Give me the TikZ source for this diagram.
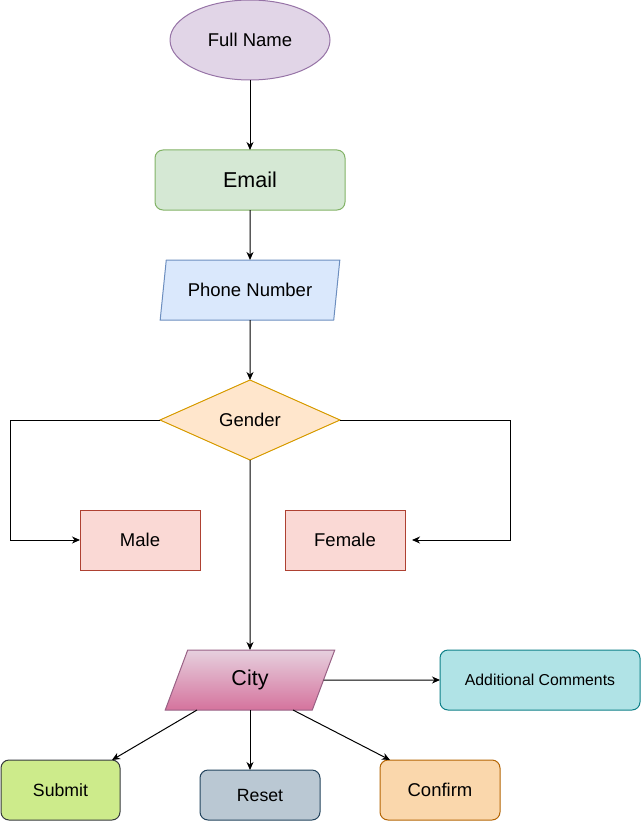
\documentclass[tikz,border=0pt]{standalone}
\usepackage{fontspec}
\setmainfont{Liberation Sans}
\usepackage{xcolor}
\usetikzlibrary{shapes.geometric, arrows.meta}

\definecolor{purpfill}{HTML}{E1D5E7}\definecolor{purpline}{HTML}{9673A6}
\definecolor{grnfill}{HTML}{D5E8D4}\definecolor{grnline}{HTML}{82B366}
\definecolor{bluefill}{HTML}{DAE8FC}\definecolor{blueline}{HTML}{6C8EBF}
\definecolor{orgfill}{HTML}{FFE6CC}\definecolor{orgline}{HTML}{D79B00}
\definecolor{redfill}{HTML}{FAD9D5}\definecolor{redline}{HTML}{AE4132}
\definecolor{citytop}{HTML}{E6D0DE}\definecolor{citybot}{HTML}{D5739D}\definecolor{cityline}{HTML}{996185}
\definecolor{tealfill}{HTML}{B0E3E6}\definecolor{tealline}{HTML}{0E8088}
\definecolor{limefill}{HTML}{CDEB8B}\definecolor{limeline}{HTML}{36393D}
\definecolor{greyfill}{HTML}{BAC8D3}\definecolor{greyline}{HTML}{23445D}
\definecolor{tanfill}{HTML}{FAD7AC}\definecolor{tanline}{HTML}{B46504}

\begin{document}
\begin{tikzpicture}[x=1pt, y=-1pt, line width=1pt,
  txt/.style={font=\fontsize{18.5}{22}\selectfont},
  bigtxt/.style={font=\fontsize{21.5}{25}\selectfont},
  box/.style={draw, inner sep=0pt, outer sep=0pt, txt},
  slanted/.style={box, trapezium, trapezium left angle=71.57, trapezium right angle=108.43,
    trapezium stretches=true, minimum height=60pt},
  arr/.style={-{Stealth[length=8pt, width=7pt, inset=2.5pt]}, black}]
  \useasboundingbox (0,0) rectangle (641,821);

  % top column
  \node[box, ellipse, draw=purpline, fill=purpfill, minimum width=160pt, minimum height=80pt] (fullname) at (250,40) {Full Name};
  \node[box, rounded corners=8pt, draw=grnline, fill=grnfill, minimum width=190pt, minimum height=60pt, bigtxt] (email) at (250,180) {Email};
  \node[slanted, draw=blueline, fill=bluefill, minimum width=180pt] (phone) at (250,290) {Phone Number};
  \node[box, diamond, aspect=2.25, draw=orgline, fill=orgfill, minimum width=180pt, minimum height=80pt] (gender) at (250,420) {Gender};
  \draw[arr] (fullname) -- (email);
  \draw[arr] (email) -- (phone.north);
  \draw[arr] (phone.south) -- (gender.north);

  % gender branches
  \node[box, draw=redline, fill=redfill, minimum width=120pt, minimum height=60pt] (male) at (140,540) {Male};
  \node[box, draw=redline, fill=redfill, minimum width=120pt, minimum height=60pt] (female) at (345,540) {Female};
  \coordinate (lbend) at (10,420);
  \coordinate (rbend) at (510,420);
  \draw[arr] (gender.west) -- (lbend) |- (male.west);
  \draw[arr] (gender.east) -- (rbend) |- ([xshift=7pt]female.east);

  % city and buttons
  \node[slanted, draw=cityline, top color=citytop, bottom color=citybot, minimum width=170pt, bigtxt] (city) at (250,680) {City};
  \node[box, rounded corners=8pt, draw=tealline, fill=tealfill, minimum width=200pt, minimum height=60pt, font=\fontsize{15.8}{19}\selectfont] (comments) at (540,680) {Additional Comments};
  \node[box, rounded corners=8pt, draw=limeline, fill=limefill, minimum width=119pt, minimum height=60pt, font=\fontsize{17.7}{21}\selectfont] (submit) at (60.5,790) {Submit};
  \node[box, rounded corners=8pt, draw=greyline, fill=greyfill, minimum width=120pt, minimum height=50pt, font=\fontsize{17.7}{21}\selectfont] (reset) at (260,795) {Reset};
  \node[box, rounded corners=8pt, draw=tanline, fill=tanfill, minimum width=120pt, minimum height=60pt] (confirm) at (440,790) {Confirm};
  \draw[arr] (gender.south) -- (city.north);
  \draw[arr] (city.east) -- (comments.west);
  \draw[arr] ([xshift=-53pt]city.south) -- ([xshift=-8pt]submit.north east);
  \draw[arr] (city.south) -- (city.south |- reset.north);
  \draw[arr] ([xshift=43pt]city.south) -- ([xshift=10pt]confirm.north west);
\end{tikzpicture}
\end{document}
